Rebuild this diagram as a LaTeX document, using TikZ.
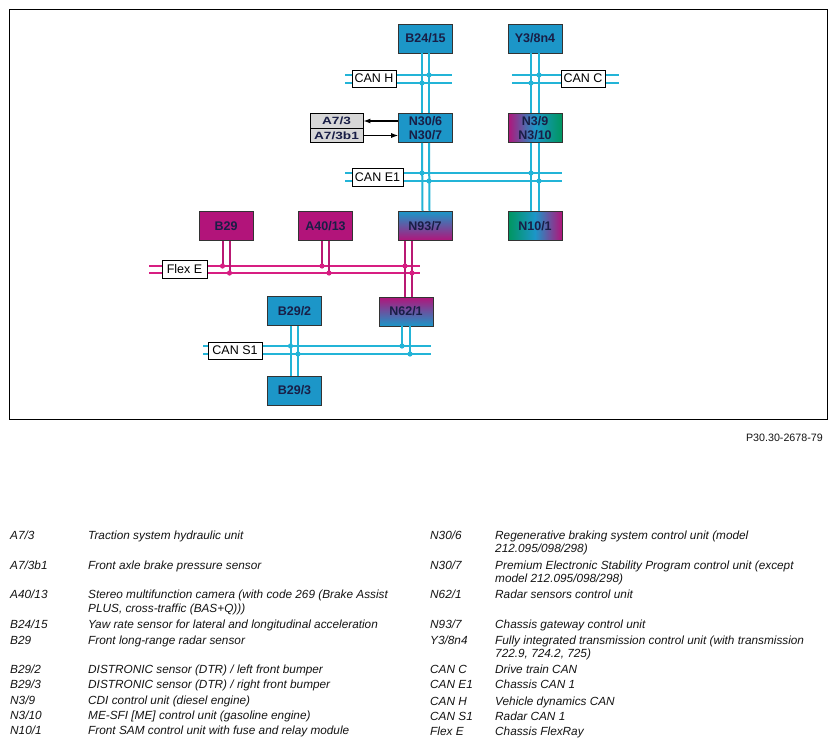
\documentclass[tikz,border=0pt]{standalone}
\usepackage{fontspec}
\setmainfont{Liberation Sans}
\usetikzlibrary{arrows.meta}
\definecolor{boxblue}{RGB}{28,150,200}
\definecolor{linecyan}{RGB}{35,180,215}
\definecolor{boxmag}{RGB}{178,20,122}
\definecolor{linemag}{RGB}{215,30,130}
\definecolor{vmag}{RGB}{185,25,115}
\definecolor{ecugreen}{RGB}{0,150,95}
\definecolor{textnavy}{RGB}{25,30,70}
\definecolor{greyfill}{RGB}{215,215,215}
\definecolor{legendtext}{RGB}{20,20,20}
\begin{document}
\begin{tikzpicture}[x=1pt,y=-1pt,
  ecu/.style={draw=black!80, line width=0.8pt, minimum width=54pt, minimum height=29pt,
    inner sep=0pt, align=center, text=textnavy,
    font=\fontsize{12.5}{13.5}\selectfont\bfseries},
  bluebox/.style={ecu, fill=boxblue},
  magbox/.style={ecu, fill=boxmag},
  buslabel/.style={draw=black, fill=white, line width=0.8pt, inner sep=0pt,
    minimum height=17pt, font=\fontsize{12.5}{14}\selectfont},
  greybox/.style={draw=black, fill=greyfill, line width=0.8pt, inner sep=0pt,
    minimum width=53pt, minimum height=14.5pt, text=textnavy},
  canbus/.style={draw=linecyan, line width=2pt},
  flexbus/.style={draw=linemag, line width=2pt},
  flexwire/.style={draw=vmag, line width=2pt},
  leg/.style={anchor=base west, inner sep=0pt, text=legendtext,
    font=\fontsize{11.8}{13}\selectfont\itshape},
  sig/.style={draw=black, -{Latex[length=7pt,width=5pt]}}
]
\useasboundingbox[fill=white] (0,0) rectangle (837,747);

% frame
\node[draw=black, line width=1.1pt, minimum width=818pt, minimum height=410pt, inner sep=0pt] (frame) at (418.5,214.5) {};

% bus coordinates
\coordinate (chU) at (0,75);  \coordinate (chL) at (0,83);
\coordinate (ceU) at (0,173); \coordinate (ceL) at (0,181);
\coordinate (fxU) at (0,266); \coordinate (fxL) at (0,273);
\coordinate (csU) at (0,346); \coordinate (csL) at (0,354);

% buses
\draw[canbus] (345,75) -- (452,75);
\draw[canbus] (345,83) -- (452,83);
\draw[canbus] (512,75) -- (619,75);
\draw[canbus] (512,83) -- (619,83);
\draw[canbus] (345,173) -- (562,173);
\draw[canbus] (345,181) -- (562,181);
\draw[flexbus] (149,266) -- (420,266);
\draw[flexbus] (149,273) -- (420,273);
\draw[canbus] (203,346) -- (431,346);
\draw[canbus] (203,354) -- (431,354);

% control units
\node[bluebox] (b2415) at (425.5,38.5) {B24/15};
\node[bluebox] (y38n4) at (535,38.5) {Y3/8n4};
\node[bluebox] (n30) at (425.5,128) {N30/6\\N30/7};
\node[ecu, left color=boxmag, right color=ecugreen, middle color=boxblue] (n39) at (535,128) {N3/9\\N3/10};
\node[ecu, top color=boxblue, bottom color=boxmag] (n937) at (425,226) {N93/7};
\node[ecu, left color=ecugreen, right color=boxmag, middle color=boxblue] (n101) at (535,226) {N10/1};
\node[magbox] (b29) at (226,226) {B29};
\node[magbox] (a4013) at (325.5,226) {A40/13};
\node[ecu, top color=boxmag, bottom color=boxblue] (n621) at (406,311.5) {N62/1};
\node[bluebox] (b292) at (294.5,311) {B29/2};
\node[bluebox] (b293) at (294.5,390.5) {B29/3};

% grey units
\node[greybox] (a73) at (336.5,121) {\scalebox{1.3}[1]{\fontsize{10.5}{12}\selectfont\bfseries A7/3}};
\node[greybox] (a73b1) at (336.5,135.5) {\scalebox{1.3}[1]{\fontsize{10.5}{12}\selectfont\bfseries A7/3b1}};

% vertical wires
\draw[canbus] ([xshift=-3.5pt]b2415.south) -- ([xshift=-3.5pt]n30.north);
\draw[canbus] ([xshift=3.5pt]b2415.south) -- ([xshift=3.5pt]n30.north);
\draw[canbus] ([xshift=-4pt]y38n4.south) -- ([xshift=-4pt]n39.north);
\draw[canbus] ([xshift=4pt]y38n4.south) -- ([xshift=4pt]n39.north);
\draw[canbus] ([xshift=-3.5pt]n30.south) -- ([xshift=-3pt]n30.south |- n937.north);
\draw[canbus] ([xshift=3.5pt]n30.south) -- ([xshift=4pt]n30.south |- n937.north);
\draw[canbus] ([xshift=-4pt]n39.south) -- ([xshift=-4pt]n101.north);
\draw[canbus] ([xshift=4pt]n39.south) -- ([xshift=4pt]n101.north);
\draw[flexwire] ([xshift=-3.5pt]b29.south) -- ([xshift=-3.5pt]b29.south |- fxU);
\draw[flexwire] ([xshift=3.5pt]b29.south) -- ([xshift=3.5pt]b29.south |- fxL);
\draw[flexwire] ([xshift=-3.5pt]a4013.south) -- ([xshift=-3.5pt]a4013.south |- fxU);
\draw[flexwire] ([xshift=3.5pt]a4013.south) -- ([xshift=3.5pt]a4013.south |- fxL);
\draw[flexwire] ([xshift=-1pt]n621.north |- n937.south) -- ([xshift=-1pt]n621.north);
\draw[flexwire] ([xshift=6pt]n621.north |- n937.south) -- ([xshift=6pt]n621.north);
\draw[canbus] ([xshift=-4pt]b292.south) -- ([xshift=-4pt]b293.north);
\draw[canbus] ([xshift=3.5pt]b292.south) -- ([xshift=3.5pt]b293.north);
\draw[canbus] ([xshift=-4pt]n621.south) -- ([xshift=-4pt]n621.south |- csU);
\draw[canbus] ([xshift=4pt]n621.south) -- ([xshift=4pt]n621.south |- csL);

% junction dots
\fill[linecyan] (429,75) circle (2.6) (422,83) circle (2.6);
\fill[linecyan] (539,75) circle (2.6) (531,83) circle (2.6);
\fill[linecyan] (422,173) circle (2.6) (429,181) circle (2.6);
\fill[linecyan] (531,173) circle (2.6) (539,181) circle (2.6);
\fill[linemag] (222.5,266) circle (2.6) (229.5,273) circle (2.6);
\fill[linemag] (322,266) circle (2.6) (329,273) circle (2.6);
\fill[linemag] (405,266) circle (2.6) (412,273) circle (2.6);
\fill[linecyan] (290.5,346) circle (2.6) (298,354) circle (2.6);
\fill[linecyan] (402,346) circle (2.6) (410,354) circle (2.6);

% bus labels
\node[buslabel, minimum width=44pt] (canh) at (374,78.5) {CAN H};
\node[buslabel, minimum width=44pt] (canc) at (583,78.5) {CAN C};
\node[buslabel, minimum width=51pt, minimum height=18pt] (cane1) at (377.5,177) {CAN E1};
\node[buslabel, minimum width=45pt, minimum height=18pt] (flexe) at (184.5,269) {Flex E};
\node[buslabel, minimum width=54pt] (cans1) at (235,350.5) {CAN S1};

% signal arrows
\draw[sig, line width=1.6pt] (n30.west |- a73.east) -- (a73.east);
\draw[sig, line width=0.8pt] (a73b1.east) -- (n30.west |- a73b1.east);

% figure number
\node[anchor=base east, inner sep=0pt, font=\fontsize{10.7}{12}\selectfont, text=legendtext] (fig) at (823,441) {P30.30-2678-79};

% legend left
\node[leg] (l1) at (10,539) {A7/3};
\node[leg] (d1) at (88,539) {Traction system hydraulic unit};
\node[leg] (l2) at (10,569) {A7/3b1};
\node[leg] (d2) at (88,569) {Front axle brake pressure sensor};
\node[leg] (l3) at (10,598.5) {A40/13};
\node[leg] (d3) at (88,598.5) {Stereo multifunction camera (with code 269 (Brake Assist};
\node[leg] (d3b) at (88,612) {PLUS, cross-traffic (BAS+Q)))};
\node[leg] (l4) at (10,628.5) {B24/15};
\node[leg] (d4) at (88,628.5) {Yaw rate sensor for lateral and longitudinal acceleration};
\node[leg] (l5) at (10,644) {B29};
\node[leg] (d5) at (88,644) {Front long-range radar sensor};
\node[leg] (l6) at (10,673.5) {B29/2};
\node[leg] (d6) at (88,673.5) {DISTRONIC sensor (DTR) / left front bumper};
\node[leg] (l7) at (10,688.5) {B29/3};
\node[leg] (d7) at (88,688.5) {DISTRONIC sensor (DTR) / right front bumper};
\node[leg] (l8) at (10,704.5) {N3/9};
\node[leg] (d8) at (88,704.5) {CDI control unit (diesel engine)};
\node[leg] (l9) at (10,719) {N3/10};
\node[leg] (d9) at (88,719) {ME-SFI [ME] control unit (gasoline engine)};
\node[leg] (l10) at (10,734) {N10/1};
\node[leg] (d10) at (88,734) {Front SAM control unit with fuse and relay module};

% legend right
\node[leg] (r1) at (430,539) {N30/6};
\node[leg] (e1) at (495,539) {Regenerative braking system control unit (model};
\node[leg] (e1b) at (495,552) {212.095/098/298)};
\node[leg] (r2) at (430,569) {N30/7};
\node[leg] (e2) at (495,569) {Premium Electronic Stability Program control unit (except};
\node[leg] (e2b) at (495,582) {model 212.095/098/298)};
\node[leg] (r3) at (430,598.5) {N62/1};
\node[leg] (e3) at (495,598.5) {Radar sensors control unit};
\node[leg] (r4) at (430,628.5) {N93/7};
\node[leg] (e4) at (495,628.5) {Chassis gateway control unit};
\node[leg] (r5) at (430,644) {Y3/8n4};
\node[leg] (e5) at (495,644) {Fully integrated transmission control unit (with transmission};
\node[leg] (e5b) at (495,657) {722.9, 724.2, 725)};
\node[leg] (r6) at (430,673.5) {CAN C};
\node[leg] (e6) at (495,673.5) {Drive train CAN};
\node[leg] (r7) at (430,688.5) {CAN E1};
\node[leg] (e7) at (495,688.5) {Chassis CAN 1};
\node[leg] (r8) at (430,705) {CAN H};
\node[leg] (e8) at (495,705) {Vehicle dynamics CAN};
\node[leg] (r9) at (430,720) {CAN S1};
\node[leg] (e9) at (495,720) {Radar CAN 1};
\node[leg] (r10) at (430,735) {Flex E};
\node[leg] (e10) at (495,735) {Chassis FlexRay};
\end{tikzpicture}
\end{document}
